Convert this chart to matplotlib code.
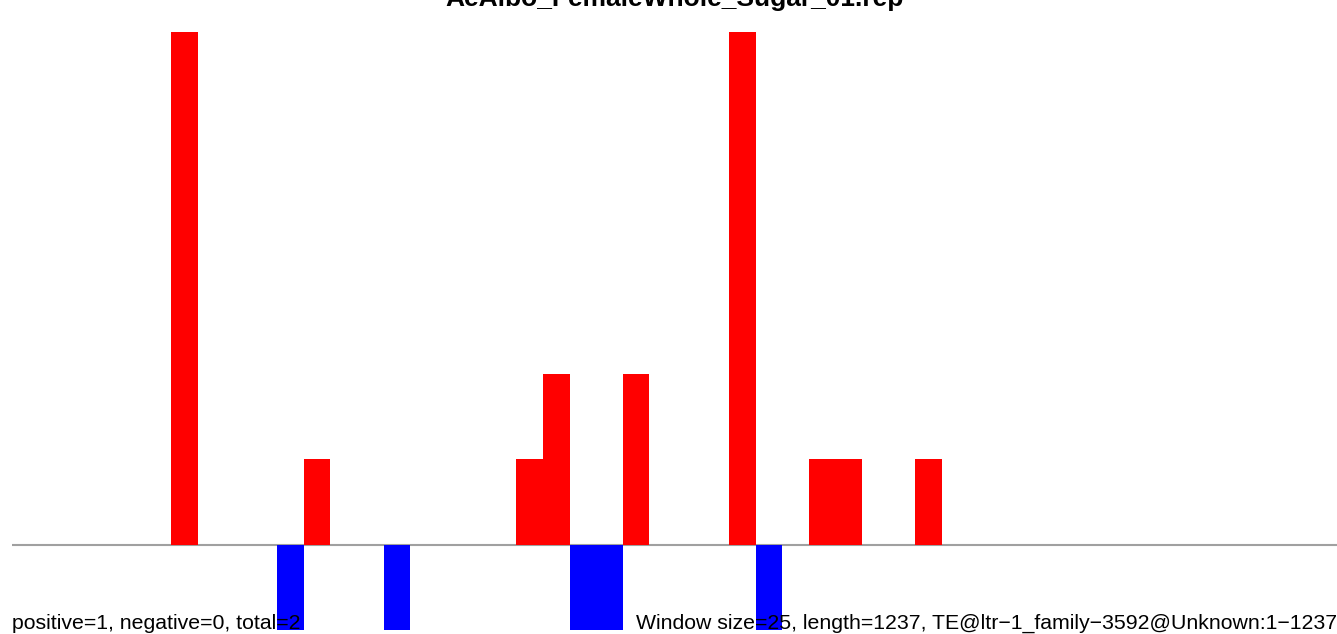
import numpy as np
import matplotlib.pyplot as plt

# window counts per bin (window size 25, length 1237 -> 50 bins)
title = "AeAlbo_FemaleWhole_Sugar_01.rep"
pos_bins = [6, 11, 19, 20, 23, 27, 30, 31, 34]
pos_vals = [6, 1, 1, 2, 2, 6, 1, 1, 1]
neg_bins = [10, 14, 21, 22, 28]
neg_vals = [-1, -1, -1, -1, -1]
left_note = "positive=1, negative=0, total=2"
right_note = "Window size=25, length=1237, TE@ltr\u22121_family\u22123592@Unknown:1\u22121237"
n_bins = 50

plt.rcParams['font.family'] = ['Liberation Sans', 'DejaVu Sans']

fig = plt.figure(figsize=(13.37, 6.34), dpi=100)
ax = fig.add_axes([11.6/1337, 4/634, 1328.5/1337, 598/634])

ax.bar(pos_bins, pos_vals, width=1.0, align='edge', color='#ff0000', linewidth=0)
ax.bar(neg_bins, neg_vals, width=1.0, align='edge', color='#0000ff', linewidth=0)
ax.axhline(0, color='#a0a0a0', lw=1.5, zorder=0)

ax.set_xlim(0, n_bins)
ax.set_ylim(-1, 6)
ax.axis('off')

fig.text(675/1337, 1 - 6/634, title, ha='center', va='baseline',
         fontsize=19, fontweight='bold')
fig.text(12/1337, 1 - 629/634, left_note, ha='left', va='baseline', fontsize=15.3)
fig.text(1.0, 1 - 629/634, right_note, ha='right', va='baseline', fontsize=15.3)

fig.savefig('out.png', dpi=100)
